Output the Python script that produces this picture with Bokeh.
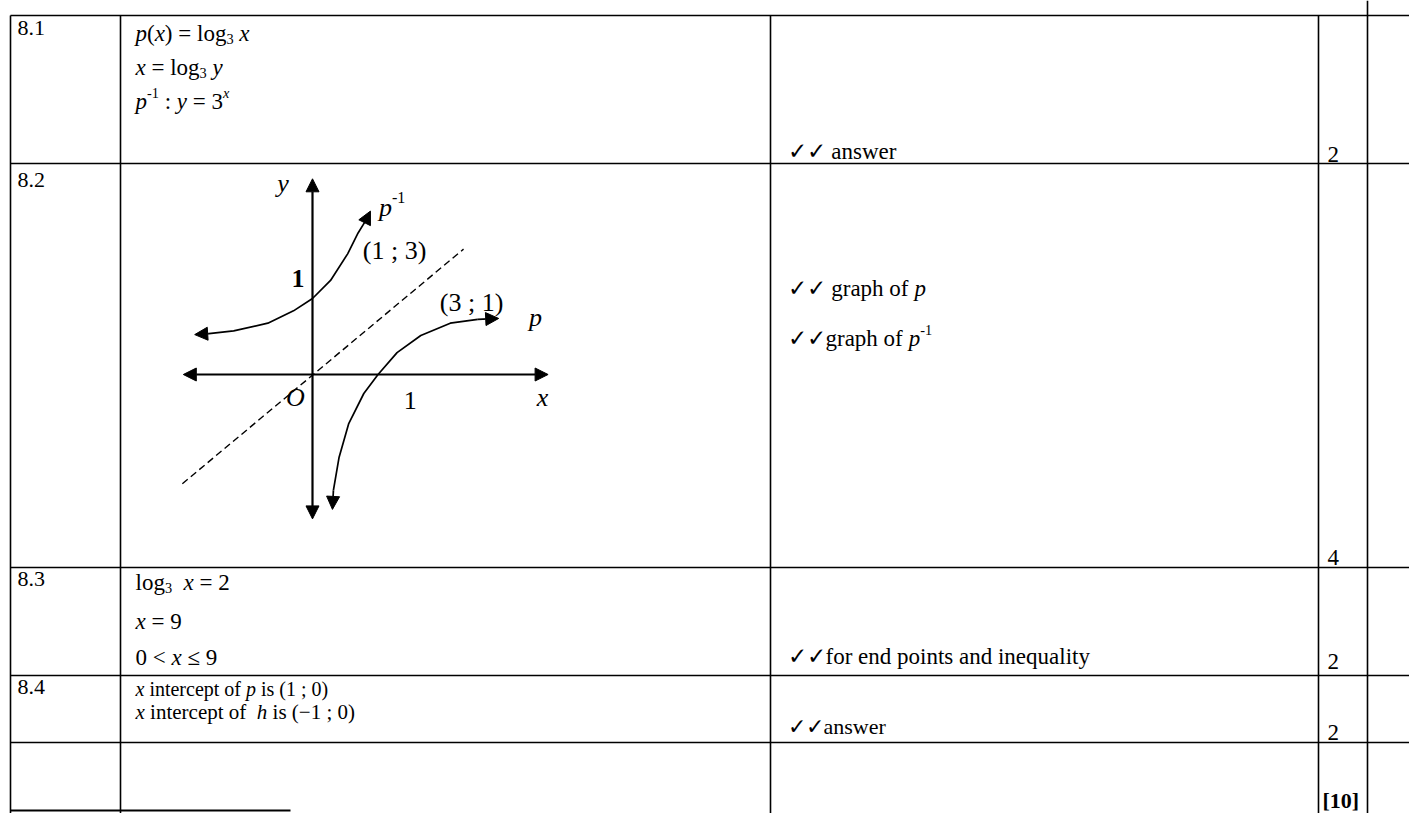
from bokeh.plotting import figure
from bokeh.models import Range1d, Arrow, NormalHead
from bokeh.core.properties import value
from bokeh.embed import file_html
from bokeh.resources import INLINE

# ---------------- data (text content and sketch values) ----------------
# segment styles: n = upright, i = italic, b = bold, s = subscript, u = superscript, ui = italic superscript
question_numbers = ["8.1", "8.2", "8.3", "8.4"]
row1_lines = [
    [("p", "i"), ("(", "n"), ("x", "i"), (") = log", "n"), ("3", "s"), (" ", "n"), ("x", "i")],
    [("x", "i"), (" = log", "n"), ("3", "s"), (" ", "n"), ("y", "i")],
    [("p", "i"), ("-1", "u"), (" : ", "n"), ("y", "i"), (" = 3", "n"), ("x", "ui")],
]
row3_lines = [
    [("log", "n"), ("3", "s"), ("  ", "n"), ("x", "i"), (" = 2", "n")],
    [("x", "i"), (" = 9", "n")],
    [("0 < ", "n"), ("x", "i"), (" \u2264 9", "n")],
]
row4_lines = [
    [("x", "i"), (" intercept of ", "n"), ("p", "i"), (" is (1 ; 0)", "n")],
    [("x", "i"), (" intercept of  ", "n"), ("h", "i"), (" is (\u22121 ; 0)", "n")],
]
memo_lines = [
    [("\u2713\u2713 answer", "n")],
    [("\u2713\u2713 graph of ", "n"), ("p", "i")],
    [("\u2713\u2713graph of ", "n"), ("p", "i"), ("-1", "u")],
    [("\u2713\u2713for end points and inequality", "n")],
    [("\u2713\u2713answer", "n")],
]
mark_texts = ["2", "4", "2", "2", "[10]"]

# sketch (graph units, origin at O)
pinv_x = [-1.09, -0.83, -0.47, -0.20, 0.00, 0.19, 0.37, 0.48, 0.56]
pinv_y = [0.43, 0.46, 0.54, 0.67, 0.80, 0.99, 1.27, 1.49, 1.62]
pinv_tips = [(-1.24, 0.42), (0.61, 1.72)]
p_x = [0.22, 0.28, 0.38, 0.54, 0.69, 0.89, 1.14, 1.45, 1.74]
p_y = [-1.22, -0.87, -0.52, -0.20, 0.00, 0.23, 0.41, 0.54, 0.58]
p_tips = [(0.21, -1.42), (1.96, 0.59)]
mirror_x = [-1.37, 1.59]
mirror_y = [-1.15, 1.32]
x_axis_ends = [-1.36, 2.48]
y_axis_ends = [-1.52, 2.06]
graph_labels = [
    [("y", "i")], [("x", "i")], [("O", "i")], [("1", "n")], [("1", "b")],
    [("p", "i"), ("-1", "u")], [("(1 ; 3)", "n")], [("(3 ; 1)", "n")], [("p", "i")],
]
graph_label_x = [-0.37, 2.36, -0.28, 0.96, -0.22, 0.70, 0.53, 1.34, 2.28]
graph_label_y = [2.01, -0.24, -0.24, -0.27, 1.01, 1.76, 1.31, 0.76, 0.60]

# ---------------- layout (page pixels) ----------------
W, H = 1409, 813
col_edges = [10, 120, 770, 1318, 1367]
row_edges = [15, 163, 567, 675, 742]
page_right = 1409
page_bottom = 813
gx0, gy0, unit = 312, 374, 95

FONT = value("Liberation Serif")

# Times / Liberation Serif advance widths (em)
WID = {" ": .25, "(": .333, ")": .333, "=": .564, ":": .278, ";": .278, "<": .564,
       "\u2264": .549, "\u2212": .564, "-": .333, "l": .278, "o": .5, "g": .5, "i": .278,
       "n": .5, "t": .278, "e": .444, "r": .333, "c": .444, "p": .5, "f": .333, "s": .389,
       "h": .5, "a": .444, "d": .5, "q": .5, "u": .5, "y": .5, "w": .722, "x": .5,
       "\u2713": .83, "O": .722, "[": .333, "]": .333, ".": .25}
WID_I = {"p": .5, "x": .444, "y": .444, "h": .5, "O": .722}


def seg_width(t, style, size):
    tab = WID_I if style in ("i", "ui") else WID
    scale = 0.62 if style in ("s", "u", "ui") else 1.0
    return sum(tab.get(ch, WID.get(ch, .5)) for ch in t) * size * scale


p = figure(width=W, height=H, output_backend="svg", toolbar_location=None,
           x_range=Range1d(0, W), y_range=Range1d(H, 0),
           min_border=0, outline_line_color=None, background_fill_color="white")
p.axis.visible = False
p.grid.visible = False

LW = 1.6
for y in row_edges:
    p.line([col_edges[0], page_right], [y, y], line_color="black", line_width=LW)
p.line([col_edges[0], 290], [810, 810], line_color="black", line_width=2.2)
for i, x in enumerate(col_edges):
    top = 0 if i == 4 else row_edges[0]
    p.line([x, x], [top, page_bottom], line_color="black", line_width=LW)


def draw(x, y, segs, size):
    for t, s in segs:
        fs = size
        dy = 0
        style = "normal"
        if s in ("i", "ui"):
            style = "italic"
        if s == "b":
            style = "bold"
        if s == "s":
            fs, dy = size * 0.62, size * 0.22
        if s in ("u", "ui"):
            fs, dy = size * 0.62, -size * 0.36
        body = t.strip(" ")
        if body:
            lead = len(t) - len(t.lstrip(" "))
            x_off = seg_width(" " * lead, "n", size)
            p.text(x=[x + x_off], y=[y + dy], text=[body], text_font=FONT,
                   text_font_size=f"{fs:.1f}px", text_font_style=style,
                   text_align="left", text_baseline="middle", text_color="black")
        x += seg_width(t, s, size)


# question numbers
for t, y in zip(question_numbers, [27, 179, 578, 686]):
    draw(17, y, [(t, "n")], 22)
# answer column
for segs, y in zip(row1_lines, [33, 67, 101]):
    draw(135, y, segs, 23)
for segs, y in zip(row3_lines, [582, 621, 657]):
    draw(135, y, segs, 23)
draw(135, 688, row4_lines[0], 20)
draw(135, 711, row4_lines[1], 21)
# memo column
for segs, y, fs in zip(memo_lines, [151, 288, 338, 656, 726], [23, 23, 23, 23, 22]):
    draw(787, y, segs, fs)
# marks column
for t, y in zip(mark_texts[:4], [154, 557, 661, 732]):
    draw(1327, y, [(t, "n")], 23)
draw(1322, 800, [(mark_texts[4], "b")], 22)

# ---------------- sketch ----------------
def gx(v):
    return [gx0 + a * unit for a in v]


def gy(v):
    return [gy0 - a * unit for a in v]


def head():
    return NormalHead(size=13, fill_color="black", line_color="black", line_width=1)


p.add_layout(Arrow(start=head(), end=head(), x_start=gx(x_axis_ends)[0], y_start=gy0,
                   x_end=gx(x_axis_ends)[1], y_end=gy0, line_width=2.2, line_color="black"))
p.add_layout(Arrow(start=head(), end=head(), x_start=gx0, y_start=gy(y_axis_ends)[0],
                   x_end=gx0, y_end=gy(y_axis_ends)[1], line_width=2.2, line_color="black"))
p.line(gx(mirror_x), gy(mirror_y), line_color="black", line_width=1.4, line_dash="7 4")
for cx, cy, tips in [(pinv_x, pinv_y, pinv_tips), (p_x, p_y, p_tips)]:
    p.line(gx(cx), gy(cy), line_color="black", line_width=1.7)
    p.add_layout(Arrow(end=head(), x_start=gx([cx[0]])[0], y_start=gy([cy[0]])[0],
                       x_end=gx([tips[0][0]])[0], y_end=gy([tips[0][1]])[0],
                       line_width=1.7, line_color="black"))
    p.add_layout(Arrow(end=head(), x_start=gx([cx[-1]])[0], y_start=gy([cy[-1]])[0],
                       x_end=gx([tips[1][0]])[0], y_end=gy([tips[1][1]])[0],
                       line_width=1.7, line_color="black"))

for segs, lx, ly in zip(graph_labels, graph_label_x, graph_label_y):
    draw(gx([lx])[0], gy([ly])[0], segs, 26)

open("out.html", "w").write(file_html(p, INLINE))
